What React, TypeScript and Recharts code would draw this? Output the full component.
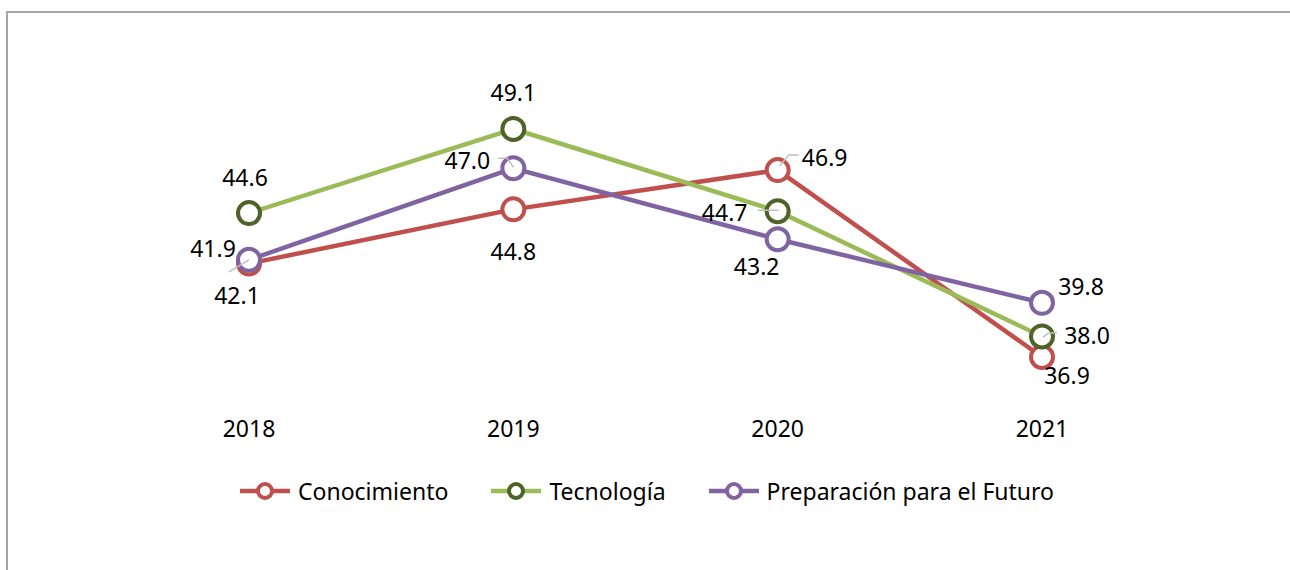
import React from "react";
import { LineChart, Line, XAxis, YAxis, LabelList } from "recharts";

const YEARS = ["2018", "2019", "2020", "2021"];
const CONOCIMIENTO = [41.9, 44.8, 46.9, 36.9];
const TECNOLOGIA = [44.6, 49.1, 44.7, 38.0];
const PREPARACION = [42.1, 47.0, 43.2, 39.8];

const FONT = "'Noto Sans', 'Open Sans', sans-serif";
const FS = 23;
const RED = "#c0504d";
const GREEN = "#9bbb59";
const GREEN_DARK = "#4f6228";
const PURPLE = "#8064a2";
const LEADER = "#bfbfbf";

const data = YEARS.map((year, i) => ({
  year,
  conocimiento: CONOCIMIENTO[i],
  tecnologia: TECNOLOGIA[i],
  preparacion: PREPARACION[i],
}));

type Place = { dx: number; dy: number; leader?: number[] };

// label placement relative to the point (text centre + optional leader polyline)
const PLACES: Record<string, Place[]> = {
  conocimiento: [
    { dx: -36, dy: -16 },
    { dx: 0, dy: 42 },
    { dx: 47, dy: -13, leader: [2, -4, 11, -15, 21, -15] },
    { dx: 25, dy: 18 },
  ],
  tecnologia: [
    { dx: -4, dy: -36 },
    { dx: 0, dy: -37 },
    { dx: -53, dy: 1, leader: [-20, -1, 1, -1] },
    { dx: 45, dy: -1, leader: [1, 1, 6, -3, 15, -4] },
  ],
  preparacion: [
    { dx: -12, dy: 35, leader: [-20, 12, 0, 0] },
    { dx: -46, dy: -8, leader: [-15, -10, -6, -10, 0, -1] },
    { dx: -21, dy: 27 },
    { dx: 39, dy: -17 },
  ],
};

const makeLabel = (key: string) => (props: any) => {
  const { x, y, value, index } = props;
  const p = PLACES[key][index];
  let pts = "";
  if (p.leader) {
    for (let i = 0; i < p.leader.length; i += 2) {
      pts += `${x + p.leader[i]},${y + p.leader[i + 1]} `;
    }
  }
  return (
    <g>
      {p.leader && <polyline points={pts} fill="none" stroke={LEADER} strokeWidth={1.5} />}
      <text
        x={x + p.dx}
        y={y + p.dy}
        textAnchor="middle"
        dominantBaseline="central"
        fontSize={FS}
        fontFamily={FONT}
        fill="#000"
      >
        {Number(value).toFixed(1)}
      </text>
    </g>
  );
};

const SERIES = [
  { key: "conocimiento", name: "Conocimiento", line: RED, marker: RED },
  { key: "tecnologia", name: "Tecnología", line: GREEN, marker: GREEN_DARK },
  { key: "preparacion", name: "Preparación para el Futuro", line: PURPLE, marker: PURPLE },
];

function LegendRow() {
  return (
    <div
      style={{
        position: "absolute",
        top: 476,
        left: 240,
        display: "flex",
        gap: 43,
        fontFamily: FONT,
        fontSize: FS,
        color: "#000",
        whiteSpace: "nowrap",
      }}
    >
      {SERIES.map((s) => (
        <div key={s.key} style={{ display: "flex", alignItems: "center", gap: 8, height: 30 }}>
          <svg width={50} height={30}>
            <line x1={0} y1={15} x2={50} y2={15} stroke={s.line} strokeWidth={4.5} />
            <circle cx={25} cy={15} r={7} fill="#fff" stroke={s.marker} strokeWidth={4} />
          </svg>
          <span>{s.name}</span>
        </div>
      ))}
    </div>
  );
}

export default function App() {
  return (
    <div style={{ position: "relative", width: 1290, height: 570, overflow: "hidden", background: "#fff" }}>
      <style>{`body{margin:0;overflow:hidden}`}</style>
      <div
        style={{
          position: "absolute",
          left: 6,
          top: 11,
          width: 1400,
          height: 700,
          border: "2px solid #a5a5a5",
          boxSizing: "border-box",
        }}
      />
      <div style={{ position: "absolute", left: 0, top: 0 }}>
        <LineChart width={1290} height={570} data={data} margin={{ top: 37.4, right: 248, left: 249, bottom: 128.8 }}>
          <XAxis
            dataKey="year"
            axisLine={false}
            tickLine={false}
            height={30}
            tickMargin={3}
            tick={{ fontSize: FS, fontFamily: FONT, fill: "#000" }}
            interval={0}
          />
          <YAxis hide type="number" domain={[34, 54]} />
          {SERIES.map((s) => (
            <Line
              key={s.key}
              type="linear"
              dataKey={s.key}
              name={s.name}
              stroke={s.line}
              strokeWidth={4.5}
              dot={{ r: 11, stroke: s.marker, strokeWidth: 4, fill: "#fff" }}
              isAnimationActive={false}
            >
              <LabelList dataKey={s.key} content={makeLabel(s.key)} />
            </Line>
          ))}
        </LineChart>
      </div>
      <LegendRow />
    </div>
  );
}
